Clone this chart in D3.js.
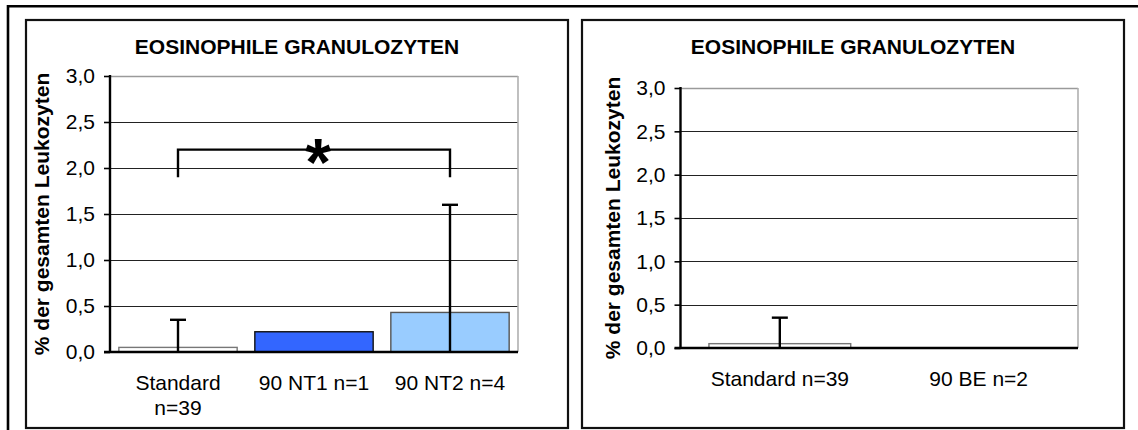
<!DOCTYPE html>
<html>
<head>
<meta charset="utf-8">
<script src="https://cdn.jsdelivr.net/npm/d3@7"></script>
<style>
  html, body { margin: 0; padding: 0; background: #fff; }
  svg { display: block; font-family: "Liberation Sans", Arial, sans-serif; }
</style>
</head>
<body>
<svg id="chart" width="1138" height="430"></svg>
<script>
// Eosinophile Granulozyten – Anteil an den gesamten Leukozyten (Mittelwert + SD)
const chartTitle = "EOSINOPHILE GRANULOZYTEN";
const yAxisTitle = "% der gesamten Leukozyten";
const yTickValues = [0, 0.5, 1.0, 1.5, 2.0, 2.5, 3.0];

// Panel A: Standard vs. 90 NT1 / 90 NT2
const categoriesA = ["Standard\nn=39", "90 NT1 n=1", "90 NT2 n=4"];
const meansA = [0.05, 0.22, 0.43];
const sdA = [0.30, 0, 1.17];
const fillsA = ["#ffffff", "#3366ff", "#99ccff"];
const strokesA = ["#777777", "#111111", "#555555"];

// Significance bracket in panel A (Standard vs. 90 NT2)
const sigFrom = 0, sigTo = 2, sigLevel = 2.2, sigLegEnd = 1.9, sigMark = "*";

// Panel B: Standard vs. 90 BE
const categoriesB = ["Standard n=39", "90 BE n=2"];
const meansB = [0.05, 0];
const sdB = [0.30, 0];
const fillsB = ["#ffffff", "#ffffff"];
const strokesB = ["#777777", "#777777"];

const svg = d3.select("#chart");
const fmt = d3.formatLocale({decimal: ",", thousands: ".", grouping: [3], currency: ["", "€"]}).format(".1f");

// outer frame (top and left edges)
svg.append("line").attr("x1", 7).attr("x2", 1138).attr("y1", 6.2).attr("y2", 6.2)
  .attr("stroke", "#000").attr("stroke-width", 2.6);
svg.append("line").attr("x1", 8).attr("x2", 8).attr("y1", 5).attr("y2", 430)
  .attr("stroke", "#000").attr("stroke-width", 2.6);

function drawPanel(cfg) {
  const g = svg.append("g");
  // panel frame
  g.append("rect").attr("x", cfg.frame[0]).attr("y", cfg.frame[1])
    .attr("width", cfg.frame[2] - cfg.frame[0]).attr("height", cfg.frame[3] - cfg.frame[1])
    .attr("fill", "#fff").attr("stroke", "#111").attr("stroke-width", 2.2);

  const x = d3.scaleBand().domain(cfg.categories).range([cfg.x0, cfg.x1])
    .paddingInner(cfg.padIn).paddingOuter(cfg.padOut);
  const y = d3.scaleLinear().domain([0, 3]).range([cfg.yb, cfg.yt]);

  // title
  g.append("text").attr("x", (cfg.frame[0] + cfg.frame[2]) / 2).attr("y", 54)
    .attr("text-anchor", "middle").attr("font-size", 21).attr("font-weight", "bold")
    .attr("fill", "#000").text(chartTitle);

  // gridlines
  g.append("g").selectAll("line").data(yTickValues.filter(v => v > 0)).join("line")
    .attr("x1", cfg.x0).attr("x2", cfg.x1)
    .attr("y1", d => Math.round(y(d)) + 0.5).attr("y2", d => Math.round(y(d)) + 0.5)
    .attr("stroke", d => d === 3 ? "#9a9a9a" : "#222").attr("stroke-width", d => d === 3 ? 1.6 : 1);
  // right edge of plot area
  g.append("line").attr("x1", cfg.x1).attr("x2", cfg.x1).attr("y1", y(3)).attr("y2", y(0))
    .attr("stroke", "#b0b0b0").attr("stroke-width", 1.6);

  // bars
  g.append("g").selectAll("rect").data(cfg.means).join("rect")
    .filter(d => d > 0)
    .attr("x", (d, i) => x(cfg.categories[i]))
    .attr("width", x.bandwidth())
    .attr("y", d => y(d))
    .attr("height", d => y(0) - y(d))
    .attr("fill", (d, i) => cfg.fills[i])
    .attr("stroke", (d, i) => cfg.strokes[i])
    .attr("stroke-width", 1.4);

  // error bars (upper only)
  const eg = g.append("g");
  cfg.means.forEach((m, i) => {
    if (!(cfg.sd[i] > 0)) return;
    const cx = x(cfg.categories[i]) + x.bandwidth() / 2;
    const top = y(m + cfg.sd[i]);
    eg.append("line").attr("x1", cx).attr("x2", cx).attr("y1", y(0)).attr("y2", top)
      .attr("stroke", "#000").attr("stroke-width", 2.4);
    eg.append("line").attr("x1", cx - 8).attr("x2", cx + 8).attr("y1", top).attr("y2", top)
      .attr("stroke", "#000").attr("stroke-width", 2.4);
  });

  // y axis
  const yAxis = g.append("g").attr("transform", `translate(${cfg.x0},0)`)
    .call(d3.axisLeft(y).tickValues(yTickValues).tickFormat(fmt).tickSize(6).tickPadding(9));
  yAxis.select(".domain").remove();
  yAxis.selectAll(".tick line").attr("stroke", "#000").attr("stroke-width", 1.6);
  yAxis.selectAll(".tick text").attr("font-size", 21).attr("fill", "#000")
    .attr("font-family", "Liberation Sans, Arial, sans-serif");
  g.append("line").attr("x1", cfg.x0).attr("x2", cfg.x0).attr("y1", y(3) - 1).attr("y2", y(0) + 1)
    .attr("stroke", "#000").attr("stroke-width", 2.4);

  // x axis
  const xAxis = g.append("g").attr("transform", `translate(0,${y(0)})`)
    .call(d3.axisBottom(x).tickSize(0).tickPadding(23));
  xAxis.select(".domain").remove();
  xAxis.selectAll(".tick text").attr("font-size", 21).attr("fill", "#000")
    .attr("font-family", "Liberation Sans, Arial, sans-serif")
    .each(function(d) {
      const t = d3.select(this);
      const lines = d.split("\n");
      t.text(null);
      lines.forEach((ln, k) => {
        t.append("tspan").attr("x", 0).attr("dy", k === 0 ? "0.71em" : "1.2em").text(ln);
      });
    }).attr("dy", null);
  g.append("line").attr("x1", cfg.x0 - 6).attr("x2", cfg.x1).attr("y1", y(0)).attr("y2", y(0))
    .attr("stroke", "#000").attr("stroke-width", 2.6);

  // y axis title
  g.append("text")
    .attr("transform", `translate(${cfg.x0 - 61},${(y(0) + y(3)) / 2}) rotate(-90)`)
    .attr("text-anchor", "middle").attr("font-size", 21).attr("font-weight", "bold")
    .attr("fill", "#000").text(yAxisTitle);

  return {x, y, g};
}

const panelA = drawPanel({
  frame: [26, 20, 568, 428], x0: 110, x1: 518, yt: 76, yb: 352,
  padIn: 0.13, padOut: 0.065,
  categories: categoriesA, means: meansA, sd: sdA, fills: fillsA, strokes: strokesA
});

drawPanel({
  frame: [582, 20, 1124, 428], x0: 680.5, x1: 1078, yt: 88, yb: 348,
  padIn: 0.287, padOut: 0.143,
  categories: categoriesB, means: meansB, sd: sdB, fills: fillsB, strokes: strokesB
});

// significance bracket
{
  const {x, y, g} = panelA;
  const xa = x(categoriesA[sigFrom]) + x.bandwidth() / 2;
  const xb = x(categoriesA[sigTo]) + x.bandwidth() / 2;
  const pts = [[xa, y(sigLevel) + 28], [xa, y(sigLevel)], [xb, y(sigLevel)], [xb, y(sigLevel) + 28]];
  g.append("path").attr("d", d3.line()(pts.map((p, i) => (i === 0 || i === 3) ? [p[0], y(sigLegEnd)] : p)))
    .attr("fill", "none").attr("stroke", "#000").attr("stroke-width", 2.4);
  g.append("text").attr("x", (xa + xb) / 2 + 4).attr("y", y(sigLevel) + 35)
    .attr("text-anchor", "middle").attr("font-size", 66).attr("font-weight", "bold")
    .attr("fill", "#000").text(sigMark);
}
</script>
</body>
</html>
